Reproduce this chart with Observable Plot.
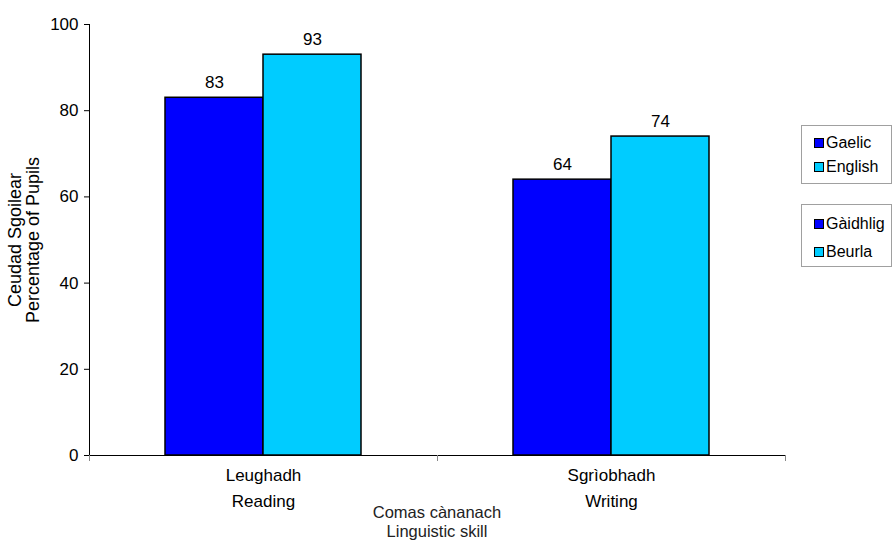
<!DOCTYPE html>
<html>
<head>
<meta charset="utf-8">
<script src="https://cdn.jsdelivr.net/npm/d3@7"></script>
<script src="https://cdn.jsdelivr.net/npm/@observablehq/plot@0.6"></script>
<style>
  body { margin: 0; background: #fff; font-family: "Liberation Sans", Arial, sans-serif; }
  #wrap { position: relative; width: 893px; height: 543px; overflow: hidden; }
  .legend { position: absolute; border: 1px solid #a0a0a0; background: #fff; font-size: 16px; color: #000; }
  .legend .item { position: absolute; left: 12px; display: flex; align-items: center; white-space: nowrap; }
  .legend .sw { width: 8px; height: 8px; border: 1px solid #000; margin-right: 2px; }
  #xtitle { position: absolute; left: 287px; width: 300px; text-align: center; top: 503px; font-size: 16.5px; line-height: 18.5px; color: #222; }
</style>
</head>
<body>
<div id="wrap">
  <div id="chart"></div>
  <div id="xtitle">Comas cànanach<br>Linguistic skill</div>
  <div class="legend" id="leg1" style="left:801px; top:125px; width:89px; height:57px;"></div>
  <div class="legend" id="leg2" style="left:801px; top:204px; width:89px; height:61px;"></div>
</div>
<script>
const skills = ["Reading", "Writing"];
const skillLabels = ["Leughadh\nReading", "Sgrìobhadh\nWriting"];
const series = ["Gaelic", "English"];
const seriesGaelicNames = ["Gàidhlig", "Beurla"];
const gaelicValues = [83, 64];
const englishValues = [93, 74];
const colors = ["#0000ff", "#00ccff"];
const yTicks = [0, 20, 40, 60, 80, 100];

const data = [];
skills.forEach((s, i) => {
  data.push({skill: s, series: "Gaelic", value: gaelicValues[i]});
  data.push({skill: s, series: "English", value: englishValues[i]});
});
const labelData = skills.map((s, i) => ({skill: s, label: skillLabels[i]}));

const W = 893, H = 543;
const mT = 24, mB = 88, mL = 89, mR = 108;
const innerH = H - mT - mB;

const chart = Plot.plot({
  width: W,
  height: H,
  marginTop: mT,
  marginBottom: mB,
  marginLeft: mL,
  marginRight: mR,
  style: {fontFamily: "Liberation Sans, Arial, sans-serif", fontSize: "17px", color: "#000", background: "#fff"},
  fx: {domain: skills, padding: 0, axis: null},
  x: {domain: series, paddingInner: 0, paddingOuter: 0.76, axis: null},
  y: {domain: [0, 100], ticks: yTicks, tickSize: 5, tickPadding: 6, line: true,
      label: "Ceudad Sgoilear\nPercentage of Pupils", labelAnchor: "center", labelOffset: 81, labelArrow: "none"},
  color: {domain: series, range: colors},
  marks: [
    Plot.barY(data, {fx: "skill", x: "series", y: "value", fill: "series", stroke: "#000", strokeWidth: 1.5}),
    Plot.ruleY([0], {stroke: "#000", strokeWidth: 1.2}),
    Plot.frame({anchor: "left", insetTop: innerH, insetBottom: -5, stroke: "#888"}),
    Plot.frame({anchor: "right", insetTop: innerH, insetBottom: -5, stroke: "#888"}),
    Plot.text(data, {fx: "skill", x: "series", y: "value", text: d => String(d.value), dy: -10, lineAnchor: "bottom", fontSize: 17, fill: "#000"}),
    Plot.text(labelData, {fx: "skill", text: "label", frameAnchor: "bottom", lineAnchor: "top", dy: 7, lineHeight: 1.53, fontSize: 17, fill: "#000"})
  ]
});
document.getElementById("chart").appendChild(chart);
// enlarge the y-axis title font
chart.querySelectorAll("[aria-label='y-axis label'] text").forEach(t => t.setAttribute("font-size", "18"));

function fillLegend(id, names, tops) {
  const el = document.getElementById(id);
  names.forEach((n, i) => {
    const it = document.createElement("div");
    it.className = "item";
    it.style.top = tops[i] + "px";
    const sw = document.createElement("span");
    sw.className = "sw";
    sw.style.background = colors[i];
    const t = document.createElement("span");
    t.textContent = n;
    it.appendChild(sw); it.appendChild(t);
    el.appendChild(it);
  });
}
fillLegend("leg1", series, [8, 32]);
fillLegend("leg2", seriesGaelicNames, [10, 38]);
</script>
</body>
</html>
